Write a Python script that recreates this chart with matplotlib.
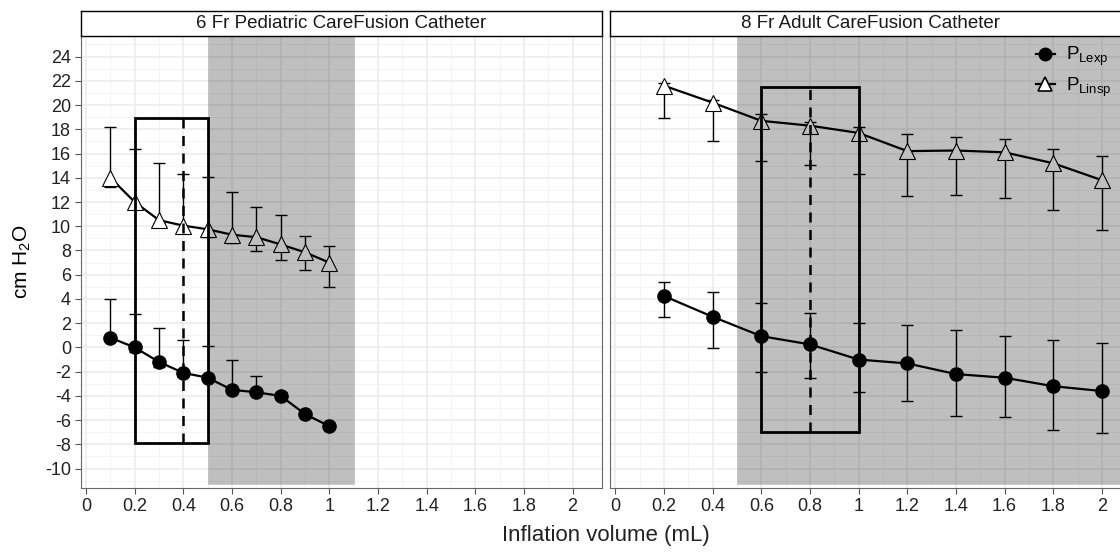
import numpy as np
import matplotlib
matplotlib.use("Agg")
import matplotlib.pyplot as plt
from matplotlib.patches import Rectangle
from matplotlib.lines import Line2D

plt.rcParams["font.family"] = ["Liberation Sans", "DejaVu Sans"]
plt.rcParams["mathtext.fontset"] = "custom"
plt.rcParams["mathtext.rm"] = "Liberation Sans"
plt.rcParams["mathtext.it"] = "Liberation Sans:italic"
plt.rcParams["axes.unicode_minus"] = False

# --- data ---
panel_titles = ["6 Fr Pediatric CareFusion Catheter", "8 Fr Adult CareFusion Catheter"]

ped_x = [0.1, 0.2, 0.3, 0.4, 0.5, 0.6, 0.7, 0.8, 0.9, 1.0]
ped_insp = [14.0, 12.0, 10.5, 10.05, 9.75, 9.3, 9.1, 8.5, 7.85, 7.0]
ped_insp_hi = [18.2, 16.4, 15.2, 14.3, 14.05, 12.8, 11.55, 10.95, 9.17, 8.37]
ped_insp_lo = [13.2, 11.6, 10.3, 9.7, 9.15, 8.6, 7.95, 7.2, 6.4, 5.0]
ped_exp = [0.8, 0.0, -1.2, -2.1, -2.5, -3.5, -3.7, -4.0, -5.5, -6.5]
ped_exp_hi = [4.0, 2.75, 1.6, 0.58, 0.08, -1.02, -2.37, -3.67, -5.3, -6.3]
ped_exp_lo = [0.5, -0.35, -1.6, -2.3, -2.7, -3.7, -3.9, -4.2, -5.7, -6.7]

adu_x = [0.2, 0.4, 0.6, 0.8, 1.0, 1.2, 1.4, 1.6, 1.8, 2.0]
adu_insp = [21.6, 20.2, 18.7, 18.3, 17.7, 16.2, 16.25, 16.1, 15.2, 13.8]
adu_insp_hi = [21.8, 20.4, 19.25, 18.6, 18.2, 17.6, 17.4, 17.2, 16.4, 15.8]
adu_insp_lo = [18.9, 17.0, 15.35, 15.05, 14.3, 12.5, 12.6, 12.35, 11.35, 9.65]
adu_exp = [4.24, 2.53, 0.93, 0.25, -1.0, -1.32, -2.2, -2.5, -3.2, -3.6]
adu_exp_hi = [5.42, 4.6, 3.69, 2.86, 1.98, 1.87, 1.43, 0.96, 0.58, 0.33]
adu_exp_lo = [2.48, -0.08, -2.0, -2.5, -3.7, -4.46, -5.65, -5.7, -6.78, -7.1]

# shaded zone (x from/to, y bottom) and the marked box (x0, x1, y0, y1, dashed x)
shade = [(0.5, 1.1), (0.5, 2.3)]
shade_bottom = -11.3
boxes = [(0.2, 0.5, -7.85, 18.9, 0.4), (0.6, 1.0, -7.0, 21.5, 0.8)]

xticks = np.round(np.arange(0, 2.01, 0.2), 1)
xlabels = ["0", "0.2", "0.4", "0.6", "0.8", "1", "1.2", "1.4", "1.6", "1.8", "2"]
yticks = np.arange(-10, 25, 2)

W, H = 1120, 552
fig = plt.figure(figsize=(W / 100, H / 100), dpi=100)

panel_w = 521.6
lefts = [80.7, 610.0]
top_px, bot_px, strip_top = 36.0, 488.0, 11.0
panel_h = bot_px - top_px

series = [
    (ped_x, ped_insp, ped_insp_hi, ped_insp_lo, ped_exp, ped_exp_hi, ped_exp_lo),
    (adu_x, adu_insp, adu_insp_hi, adu_insp_lo, adu_exp, adu_exp_hi, adu_exp_lo),
]

for i in range(2):
    l = lefts[i]
    ax = fig.add_axes([l / W, (H - bot_px) / H, panel_w / W, panel_h / H])
    ax.set_xlim(-0.022, 2.122)
    ax.set_ylim(-11.6, 25.7)
    ax.set_xticks(xticks)
    ax.set_xticklabels(xlabels)
    ax.set_xticks(np.arange(0.1, 2.1, 0.2), minor=True)
    ax.set_yticks(yticks)
    ax.set_yticks(np.arange(-11, 26, 2), minor=True)
    ax.grid(True, which="major", color="#EBEBEB", lw=1.1)
    ax.grid(True, which="minor", color="#F2F2F2", lw=0.6)
    ax.set_axisbelow(True)
    ax.tick_params(which="major", length=4, width=0.8, color="#555555",
                   labelsize=13, labelcolor="#222222", pad=3)
    ax.tick_params(which="minor", length=0)
    if i == 1:
        ax.tick_params(axis="y", left=False, labelleft=False)
    for s in ax.spines.values():
        s.set_color("#666666")
        s.set_linewidth(0.8)

    x, ins, ins_hi, ins_lo, ex, ex_hi, ex_lo = series[i]
    x = np.array(x)
    ins, ins_hi, ins_lo = map(np.array, (ins, ins_hi, ins_lo))
    ex, ex_hi, ex_lo = map(np.array, (ex, ex_hi, ex_lo))

    ax.errorbar(x, ins, yerr=[ins - ins_lo, ins_hi - ins], fmt="none",
                ecolor="black", elinewidth=1, capsize=4.5, capthick=1, zorder=2)
    ax.errorbar(x, ex, yerr=[ex - ex_lo, ex_hi - ex], fmt="none",
                ecolor="black", elinewidth=1, capsize=4.5, capthick=1, zorder=2)
    ax.plot(x, ins, color="black", lw=1.6, marker="^", ms=12,
            mfc="white", mec="black", mew=0.8, zorder=3)
    ax.plot(x, ex, color="black", lw=1.6, marker="o", ms=9.5,
            mfc="black", mec="black", zorder=3)

    sx0, sx1 = shade[i]
    ax.add_patch(Rectangle((sx0, shade_bottom), sx1 - sx0, 40,
                           facecolor="black", alpha=0.25, edgecolor="#888888",
                           lw=0.6, zorder=4))

    bx0, bx1, by0, by1, dx = boxes[i]
    ax.add_patch(Rectangle((bx0, by0), bx1 - bx0, by1 - by0, fill=False,
                           edgecolor="black", lw=2, zorder=5))
    ax.plot([dx, dx], [by0, by1], color="black", lw=1.8, ls=(0, (4, 3)), zorder=5)

    if i == 0:
        ax.set_ylabel("cm H$_2$O", fontsize=15)
        ax.yaxis.set_label_coords((33 - l) / panel_w, 0.5)
    else:
        handles = [
            Line2D([], [], color="black", lw=1.6, marker="o", ms=9, mfc="black"),
            Line2D([], [], color="black", lw=1.6, marker="^", ms=10, mfc="white",
                   mec="black", mew=1.2),
        ]
        ax.legend(handles, [r"$\mathregular{P_{Lexp}}$", r"$\mathregular{P_{Linsp}}$"],
                  loc="upper left", bbox_to_anchor=((1036 - l) / panel_w, 1 - 9 / panel_h),
                  frameon=False, fontsize=13.5, handlelength=1.0, handletextpad=0.6,
                  labelspacing=0.4, borderpad=0, borderaxespad=0)

    # strip on top
    sax = fig.add_axes([l / W, (H - top_px) / H, panel_w / W, (top_px - strip_top) / H])
    sax.set_xticks([])
    sax.set_yticks([])
    sax.set_facecolor("white")
    for s in sax.spines.values():
        s.set_color("black")
        s.set_linewidth(1.0)
    sax.text(0.5, 0.48, panel_titles[i], ha="center", va="center", fontsize=13.5,
             color="#1a1a1a", transform=sax.transAxes)

fig.text(606 / W, 1 - 535 / H, "Inflation volume (mL)", ha="center", va="center",
         fontsize=16, color="#222222")

fig.savefig("out.png", dpi=100)
